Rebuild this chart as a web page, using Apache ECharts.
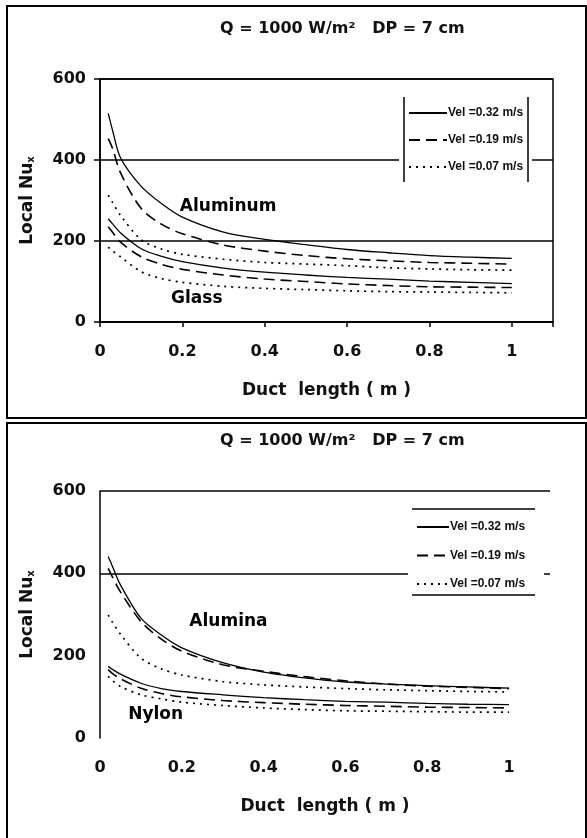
<!DOCTYPE html>
<html><head><meta charset="utf-8">
<script src="https://cdn.jsdelivr.net/npm/echarts@6/dist/echarts.min.js"></script>
<style>html,body{margin:0;padding:0;background:#fff}#c{width:587px;height:838px}</style>
</head><body><div id="c"></div>
<script>
// ---- data ----
const xPoints = [0.02, 0.03, 0.05, 0.1, 0.15, 0.2, 0.3, 0.4, 0.5, 0.6, 0.7, 0.8, 0.9, 1.0];
// top panel: Aluminum & Glass
const aluminum032 = [515, 475, 405, 335, 292, 259, 222, 204, 191, 179, 171, 164, 160, 157];
const aluminum019 = [453, 430, 368, 280, 241, 218, 190, 175, 164, 156, 151, 147, 145, 143];
const aluminum007 = [313, 296, 263, 203, 180, 167, 155, 147, 143, 139, 134, 131, 129, 128];
const glass032    = [255, 243, 220, 181, 162, 149, 133, 123, 116, 110, 106, 101, 98, 95];
const glass019    = [235, 222, 197, 161, 142, 130, 116, 106, 100, 94, 90, 87, 86, 85];
const glass007    = [185, 176, 161, 124, 107, 98, 88, 83, 80, 77, 75, 74, 73, 72];
// bottom panel: Alumina & Nylon
const alumina032  = [441, 418, 372, 291, 250, 219, 183, 160, 146, 136, 131, 127, 124, 121];
const alumina019  = [412, 392, 355, 283, 240, 211, 178, 162, 149, 139, 131, 126, 123, 120];
const alumina007  = [299, 282, 252, 194, 168, 153, 137, 129, 124, 120, 117, 115, 113, 112];
const nylon032    = [174, 167, 155, 133, 120, 113, 105, 98, 93, 89, 87, 84, 82, 81];
const nylon019    = [166, 157, 144, 121, 108, 100, 91, 86, 82, 79, 77, 75, 74, 73];
const nylon007    = [150, 140, 125, 105, 95, 87, 79, 73, 69, 66, 65, 64, 63, 63];

const xTicks = [0, 0.2, 0.4, 0.6, 0.8, 1];
const yTicks = [0, 200, 400, 600];
const legendNames = ['Vel =0.32 m/s', 'Vel =0.19 m/s', 'Vel =0.07 m/s'];
const titleText = 'Q = 1000 W/m²   DP = 7 cm';
const xName = 'Duct  length ( m )';
const annotationsTop = [['Aluminum', 0.311, 286], ['Glass', 0.235, 59]];
const annotationsBottom = [['Alumina', 0.314, 284], ['Nylon', 0.136, 56]];

// ---- styles ----
const FONT = 'DejaVu Sans';
const LFONT = 'Liberation Sans';
const lineStyles = [
  { type: 'solid', width: 1.3, color: '#000' },
  { type: [11, 6], width: 1.6, color: '#000' },
  { type: [2, 5], width: 1.7, color: '#000' }
];

function pairs(ys) { return xPoints.map((x, i) => [x, ys[i]]); }

function curve(name, ys, styleIdx, gi) {
  return {
    type: 'line', name: name, xAxisIndex: gi, yAxisIndex: gi,
    data: pairs(ys), symbol: 'none', showSymbol: false, smooth: 0.3,
    lineStyle: lineStyles[styleIdx], itemStyle: { color: '#000' },
    silent: true, animation: false
  };
}

function annot(list, gi) {
  return {
    type: 'scatter', xAxisIndex: gi, yAxisIndex: gi, symbolSize: 1, silent: true,
    itemStyle: { color: 'rgba(0,0,0,0)', opacity: 1 },
    data: list.map(a => ({ value: [a[1], a[2]], name: a[0] })),
    label: { show: true, position: 'inside', formatter: p => p.name, opacity: 1,
      fontFamily: FONT, fontWeight: 'bold', fontSize: 17, color: '#000' },
    animation: false
  };
}

const xLabelFmt = v => xTicks.some(t => Math.abs(t - v) < 1e-9) ? String(+v.toFixed(1)) : '';

function xAxis(gi, showLine) {
  return {
    type: 'value', gridIndex: gi, min: 0, max: 1.1, interval: 0.2,
    name: xName, nameLocation: 'middle', nameGap: 60,
    nameTextStyle: { fontFamily: FONT, fontWeight: 'bold', fontSize: 17, color: '#111' },
    axisLine: { show: showLine, onZero: false, lineStyle: { color: '#000', width: 1.5 } },
    axisTick: { show: showLine, inside: false, length: 5, lineStyle: { color: '#000', width: 1.5 } },
    axisLabel: { formatter: xLabelFmt, margin: 22, fontFamily: FONT, fontWeight: 'bold', fontSize: 16, color: '#111' },
    splitLine: { show: false }
  };
}

function yAxis(gi, splitColors) {
  return {
    type: 'value', gridIndex: gi, min: yTicks[0], max: yTicks[yTicks.length - 1], interval: 200,
    name: '{n|Local Nu}{s|x}', nameLocation: 'middle', nameGap: 64, nameRotate: 90,
    nameTextStyle: { color: '#111', rich: {
      n: { fontFamily: FONT, fontWeight: 'bold', fontSize: 17, color: '#111' },
      s: { fontFamily: FONT, fontWeight: 'bold', fontSize: 10, color: '#111', verticalAlign: 'bottom' } } },
    axisLine: { show: true, lineStyle: { color: '#000', width: 1.5 } },
    axisTick: { show: gi === 0, length: 6, lineStyle: { color: '#000', width: 1.5 } },
    axisLabel: { margin: 14, fontFamily: FONT, fontWeight: 'bold', fontSize: 16, color: '#111' },
    splitLine: { show: true, lineStyle: { color: splitColors, width: 1.5 } }
  };
}

function legend(left, top, itemWidth, gap, padding) {
  return {
    show: true, orient: 'vertical', left: left, top: top, data: legendNames,
    itemWidth: itemWidth, itemHeight: 14, itemGap: gap, padding: padding,
    backgroundColor: '#fff', selectedMode: false,
    textStyle: { fontFamily: LFONT, fontWeight: 'bold', fontSize: 12, color: '#111', padding: [0, 0, 0, -4] },
    itemStyle: { color: '#000', opacity: 0, borderWidth: 0 }, lineStyle: { width: 2 }
  };
}

const series = [
  curve(legendNames[0], aluminum032, 0, 0),
  curve(legendNames[1], aluminum019, 1, 0),
  curve(legendNames[2], aluminum007, 2, 0),
  curve(legendNames[0], glass032, 0, 0),
  curve(legendNames[1], glass019, 1, 0),
  curve(legendNames[2], glass007, 2, 0),
  curve(legendNames[0], alumina032, 0, 1),
  curve(legendNames[1], alumina019, 1, 1),
  curve(legendNames[2], alumina007, 2, 1),
  curve(legendNames[0], nylon032, 0, 1),
  curve(legendNames[1], nylon019, 1, 1),
  curve(legendNames[2], nylon007, 2, 1),
  annot(annotationsTop, 0),
  annot(annotationsBottom, 1)
];

const chart = echarts.init(document.getElementById('c'), null, { renderer: 'canvas' });
chart.setOption({
  backgroundColor: '#fff',
  animation: false,
  title: [
    { text: titleText, left: 215, top: 16, textStyle: { fontFamily: FONT, fontWeight: 'bold', fontSize: 16, color: '#111' } },
    { text: titleText, left: 215, top: 428, textStyle: { fontFamily: FONT, fontWeight: 'bold', fontSize: 16, color: '#111' } }
  ],
  grid: [
    { left: 100, top: 79, width: 453, height: 243, show: true, borderColor: '#000', borderWidth: 1.5, backgroundColor: 'transparent', outerBoundsMode: 'none', containLabel: false },
    { left: 100, top: 491, width: 450, height: 247, show: false, outerBoundsMode: 'none', containLabel: false }
  ],
  xAxis: [xAxis(0, true), xAxis(1, false)],
  yAxis: [
    yAxis(0, ['#000', '#000', '#000', '#000']),
    yAxis(1, ['rgba(0,0,0,0)', 'rgba(0,0,0,0)', '#000', '#000'])
  ],
  legend: [
    legend(399, 100, 38, 15, [7, 9, 7, 9]),
    legend(408, 516, 32, 16.5, [5, 19, 5, 8])
  ],
  graphic: [
    { type: 'rect', z: 100, shape: { x: 7, y: 6, width: 579, height: 412 }, style: { fill: 'none', stroke: '#000', lineWidth: 2 } },
    { type: 'rect', z: 100, shape: { x: 7, y: 423, width: 579, height: 430 }, style: { fill: 'none', stroke: '#000', lineWidth: 2 } },
    { type: 'line', z: 100, shape: { x1: 404, y1: 97, x2: 404, y2: 182 }, style: { stroke: '#000', lineWidth: 1.5 } },
    { type: 'line', z: 100, shape: { x1: 528, y1: 97, x2: 528, y2: 182 }, style: { stroke: '#000', lineWidth: 1.5 } },
    { type: 'line', z: 100, shape: { x1: 412, y1: 509, x2: 535, y2: 509 }, style: { stroke: '#000', lineWidth: 1.5 } },
    { type: 'line', z: 100, shape: { x1: 412, y1: 595, x2: 535, y2: 595 }, style: { stroke: '#000', lineWidth: 1.5 } }
  ],
  series: series
});
</script>
</body></html>
